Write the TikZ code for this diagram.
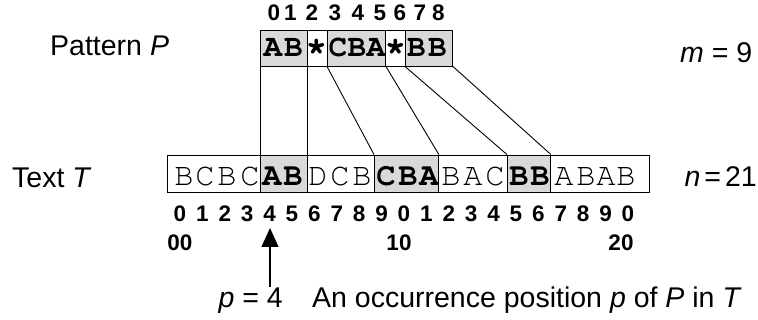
\documentclass[tikz,border=0pt]{standalone}
\usepackage{fontspec}
\setmainfont{Liberation Sans}
\usetikzlibrary{arrows.meta}
% Courier (URW) for the strings themselves
\newcommand\courfont{\fontencoding{OT1}\fontfamily{pcr}\selectfont}
\definecolor{shade}{RGB}{217,217,217}

\begin{document}
\begin{tikzpicture}[x=1pt,y=-1pt,
  lab/.style={font=\fontsize{28.5}{34}\selectfont, inner sep=0pt, anchor=base west},
  idx/.style={font=\fontsize{22.5}{26}\selectfont\bfseries, inner sep=0pt, anchor=base},
  pch/.style={font=\courfont\fontsize{31}{34}\selectfont\bfseries, inner sep=0pt, anchor=base},
  wild/.style={font=\courfont\fontsize{36}{40}\selectfont\bfseries, inner sep=0pt, anchor=base},
  tch/.style={font=\courfont\fontsize{32}{35}\selectfont, inner sep=0pt, anchor=base},
  tchb/.style={font=\courfont\fontsize{32}{35}\selectfont\bfseries, inner sep=0pt, anchor=base},
  cellw/.style={draw, line width=0.9pt, fill=white, inner sep=0pt, anchor=west},
  cellg/.style={cellw, fill=shade},
  pcellw/.style={cellw, minimum height=36pt},
  pcellg/.style={cellg, minimum height=36pt},
  tcellw/.style={cellw, minimum height=37pt},
  tcellg/.style={cellg, minimum height=37pt},
  link/.style={line width=0.9pt},
  pointer/.style={line width=1.2pt, -{Triangle[length=19pt,width=17pt]}}
]
\useasboundingbox (0,0) rectangle (758,320);

% pattern P
\node[pcellg, minimum width=47pt] (p1) at (260,48) {};
\node[pcellw, minimum width=20pt] (p2) at (307,48) {};
\node[pcellg, minimum width=58pt] (p3) at (327,48) {};
\node[pcellw, minimum width=20pt] (p4) at (385,48) {};
\node[pcellg, minimum width=47pt] (p5) at (405,48) {};
\foreach \x/\c [count=\i] in {273/A,293.5/B,338/C,357/B,376/A,416.5/B,437.5/B}
  \node[pch] (pc\i) at (\x,57) {\c};
\node[wild] (w1) at (316.5,56) {*};
\node[wild] (w2) at (395.5,56) {*};
\foreach \x [count=\i from 0] in {274,290.5,312,335,358,380,400,420,438.5}
  \node[idx] (pd\i) at (\x,21) {\i};

% text T
\node[tcellw, minimum width=93pt] (t1) at (167,173.5) {};
\node[tcellg, minimum width=47pt] (t2) at (260,173.5) {};
\node[tcellw, minimum width=67pt] (t3) at (307,173.5) {};
\node[tcellg, minimum width=64pt] (t4) at (374,173.5) {};
\node[tcellw, minimum width=69pt] (t5) at (438,173.5) {};
\node[tcellg, minimum width=43pt] (t6) at (507,173.5) {};
\node[tcellw, minimum width=99pt] (t7) at (550,173.5) {};
\foreach \x/\c [count=\i] in {184/B,205/C,227/B,250/C,318/D,340/C,362/B,451/B,473/A,495/C,564/A,586/B,606/A,626/B}
  \node[tch] (tc\i) at (\x,186) {\c};
\foreach \x/\c [count=\i] in {272/A,293/B,386/C,408/B,429/A,519/B,540/B}
  \node[tchb] (tb\i) at (\x,186) {\c};

% positions in T
\foreach \k in {0,...,20}{
  \pgfmathtruncatemacro\dd{mod(\k,10)}
  \node[idx] (td\k) at ({180+22.4*\k},222) {\dd};
}
\node[idx] (dec0) at (180,251) {00};
\node[idx] (dec1) at (399,251) {10};
\node[idx] (dec2) at (621,251) {20};

% matched blocks
\draw[link] (p1.south west) -- (t2.north west);
\draw[link] (p1.south east) -- (t2.north east);
\draw[link] (p3.south west) -- (t4.north west);
\draw[link] (p3.south east) -- (t4.north east);
\draw[link] (p5.south west) -- (t6.north west);
\draw[link] (p5.south east) -- (t6.north east);

% labels
\node[lab] (lp) at (50,56) {Pattern \textit{P}};
\node[lab] (lt) at (12,188) {Text \textit{T}};
\node[lab] (lm) at (680,63) {\textit{m} = 9};
\node[lab, anchor=base east] (ln) at (757,187) {\textit{n}\hspace{4pt}=\hspace{4pt}21};
\node[lab, anchor=base east] (lpos) at (283,308) {\textit{p} = 4};
\node[lab] (locc) at (312,308) {An occurrence position \textit{p} of \textit{P} in \textit{T}};

% occurrence pointer
\coordinate (ptail) at (270,287);
\coordinate (ptip) at (270,228);
\draw[pointer] (ptail) -- (ptip);
\end{tikzpicture}
\end{document}
